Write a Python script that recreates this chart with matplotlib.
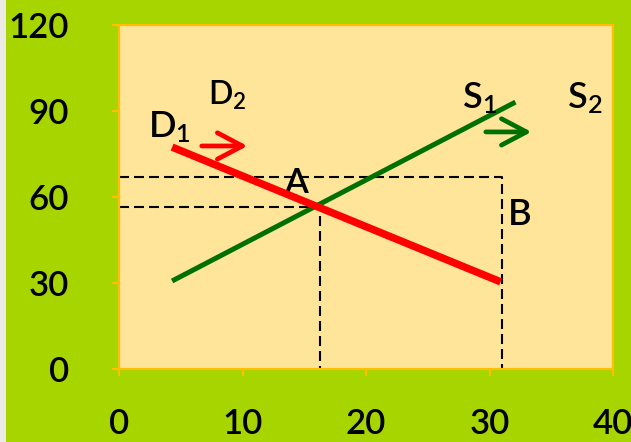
import matplotlib.pyplot as plt
from matplotlib.patches import Rectangle

# demand / supply lines (quantity, price)
d1_x = [4.3, 30.9]
d1_y = [77.4, 30.4]
s1_x = [4.3, 32.1]
s1_y = [30.7, 93.1]

# equilibrium points A and B
eq_a = (16.3, 56.5)
eq_b = (31.0, 67.0)

# shift arrows
d_shift_x = [6.7, 10.4]
d_shift_y = [77.8, 77.8]
s_shift_x = [29.7, 33.4]
s_shift_y = [82.7, 82.7]

x_ticks = [0, 10, 20, 30, 40]
y_ticks = [0, 30, 60, 90, 120]

green_bg = "#a6d500"
orange = "#ffc000"
face = "#ffe599"

plt.rcParams["font.family"] = ["Lato", "DejaVu Sans"]
plt.rcParams["font.weight"] = "semibold"
plt.rcParams["mathtext.fontset"] = "custom"
plt.rcParams["mathtext.rm"] = "Lato:semibold"
plt.rcParams["mathtext.it"] = "Lato:semibold"

fig = plt.figure(figsize=(6.31, 4.42), dpi=100, facecolor=green_bg)
fig.patches.append(Rectangle((0, 0), 6 / 631, 1, transform=fig.transFigure,
                             facecolor="#ede9e4", edgecolor="none", zorder=0))
ax = fig.add_axes([119 / 631, 73 / 442, 494 / 631, 344 / 442])
ax.set_facecolor(face)

# guide lines to the two equilibria
dash = (0, (4.8, 2.4))
ax.plot([0, eq_a[0], eq_a[0]], [eq_a[1], eq_a[1], 0], color="k",
        lw=1.5, ls=dash, zorder=2)
ax.plot([0, eq_b[0], eq_b[0]], [eq_b[1], eq_b[1], 0], color="k",
        lw=1.5, ls=dash, zorder=2)

ax.plot(s1_x, s1_y, color="#007000", lw=3.6, solid_capstyle="butt", zorder=3)
ax.plot(d1_x, d1_y, color="#ff0000", lw=5.4, solid_capstyle="butt", zorder=4)

head = "->,head_length=1.8,head_width=0.95"
ax.annotate("", xy=(d_shift_x[1], d_shift_y[1]), xytext=(d_shift_x[0], d_shift_y[0]),
            arrowprops=dict(arrowstyle=head, color="#ff0000", lw=3.4,
                            capstyle="round", joinstyle="round",
                            shrinkA=0, shrinkB=0))
ax.annotate("", xy=(s_shift_x[1], s_shift_y[1]), xytext=(s_shift_x[0], s_shift_y[0]),
            arrowprops=dict(arrowstyle=head, color="#007000", lw=3.4,
                            capstyle="round", joinstyle="round",
                            shrinkA=0, shrinkB=0))

big = 26
ax.text(2.35, 80.9, r"D$_{1}$", fontsize=big, ha="left", va="baseline")
ax.text(7.2, 92.1, r"D$_{2}$", fontsize=23, ha="left", va="baseline")
ax.text(27.8, 91.0, r"S$_{1}$", fontsize=big, ha="left", va="baseline")
ax.text(36.3, 91.0, r"S$_{2}$", fontsize=big, ha="left", va="baseline")
ax.text(13.4, 61.4, "A", fontsize=25, ha="left", va="baseline")
ax.text(31.5, 50.2, "B", fontsize=26, ha="left", va="baseline")

ax.set_xlim(0, 40)
ax.set_ylim(0, 120)
ax.set_xticks(x_ticks)
ax.set_yticks(y_ticks)
for sp in ax.spines.values():
    sp.set_color(orange)
    sp.set_linewidth(1.6)
ax.tick_params(axis="both", colors=orange, length=5, width=1.6,
               labelcolor="k", labelsize=25)
ax.tick_params(axis="x", pad=23)
ax.tick_params(axis="y", pad=31)

fig.savefig("out.png", dpi=100, facecolor=green_bg)
